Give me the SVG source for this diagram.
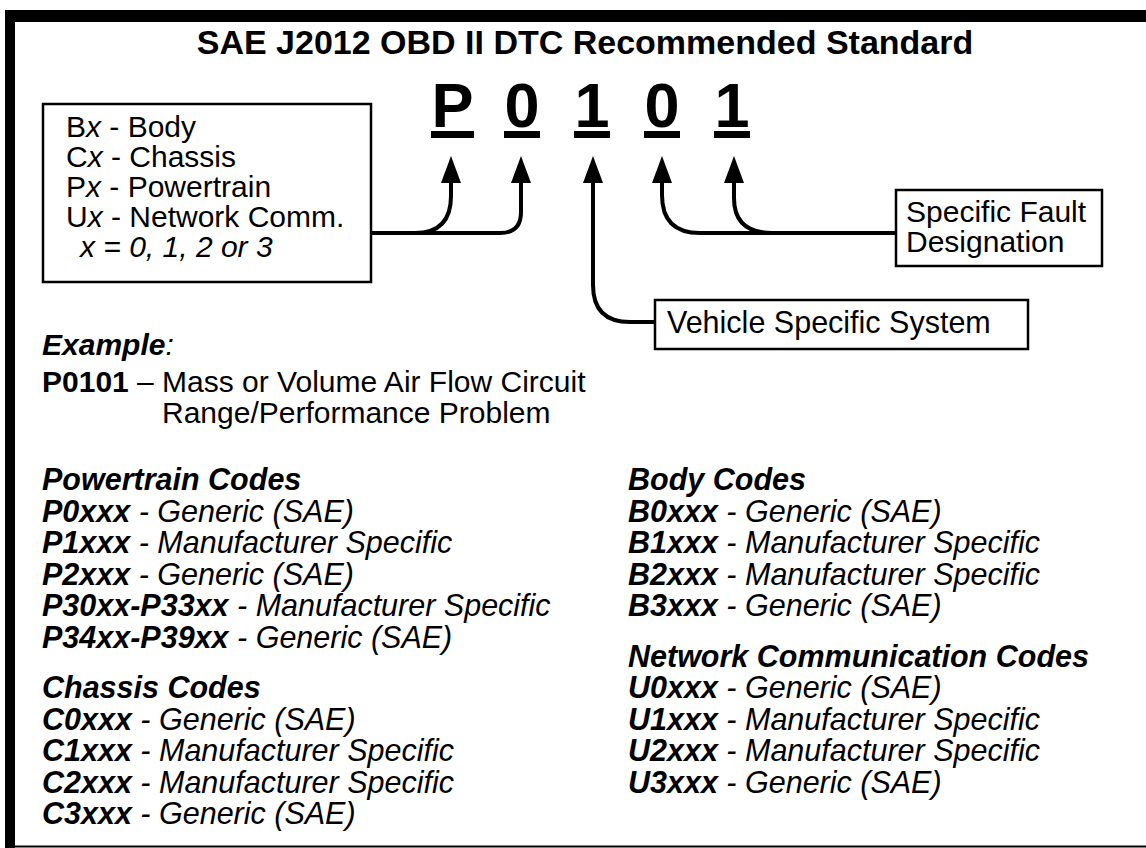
<svg xmlns="http://www.w3.org/2000/svg" width="1146" height="848" viewBox="0 0 1146 848">
<defs>
<style>
text{font-family:"Liberation Sans",Arial,Helvetica,sans-serif;fill:#000}
.t{font-size:30px}
.l{font-size:30.5px}
.i{font-style:italic}
.b{font-weight:bold}
.box{fill:#fff;stroke:#000;stroke-width:2.5}
.con{fill:none;stroke:#000;stroke-width:4}
.big{font-size:63px;font-weight:bold;text-anchor:middle}
</style>
<marker id="ah" viewBox="0 0 27 20" markerWidth="27" markerHeight="20" markerUnits="userSpaceOnUse" refX="0" refY="10" orient="auto">
<path d="M0,0 L27,10 L0,20 Z" fill="#000"/>
</marker>
</defs>
<rect width="1146" height="848" fill="#fff"/>
<g id="frame">
<rect x="5" y="10" width="1141" height="12" fill="#000"/>
<rect x="5" y="10" width="10" height="838" fill="#000"/>
<rect x="15" y="845.5" width="1131" height="2" fill="#000"/>
</g>
<g id="title">
<text x="585" y="54" class="b" font-size="34" text-anchor="middle">SAE J2012 OBD II DTC Recommended Standard</text>
</g>
<g id="code-chars">
<text x="452.5" y="127" class="big">P</text>
<text x="522" y="127" class="big">0</text>
<text x="592" y="127" class="big">1</text>
<text x="662" y="127" class="big">0</text>
<text x="732" y="127" class="big">1</text>
<rect x="431" y="131" width="43" height="7"/>
<rect x="504" y="131" width="36" height="7"/>
<rect x="574" y="131" width="36" height="7"/>
<rect x="644" y="131" width="36" height="7"/>
<rect x="714" y="131" width="36" height="7"/>
</g>
<g id="connectors">
<path class="con" marker-end="url(#ah)" d="M371 233 H415 Q451 233 451 196 V183"/>
<path class="con" marker-end="url(#ah)" d="M371 233 H500 Q521 233 521 212 V183"/>
<path class="con" marker-end="url(#ah)" d="M656 322 H630 Q593 322 593 285 V183"/>
<path class="con" marker-end="url(#ah)" d="M896 233 H700 Q662 233 662 195 V183"/>
<path class="con" marker-end="url(#ah)" d="M896 233 H772 Q734 233 734 198 V183"/>
</g>
<g id="box-categories">
<rect class="box" x="43" y="104" width="328" height="178"/>
<text class="t" x="66" y="137">B<tspan class="i">x</tspan> - Body</text>
<text class="t" x="66" y="167">C<tspan class="i">x</tspan> - Chassis</text>
<text class="t" x="66" y="197">P<tspan class="i">x</tspan> - Powertrain</text>
<text class="t" x="66" y="227">U<tspan class="i">x</tspan> - Network Comm.</text>
<text class="t i" x="80" y="257">x = 0, 1, 2 or 3</text>
</g>
<g id="box-fault">
<rect class="box" x="896" y="190" width="206" height="76"/>
<text class="t" x="906" y="222">Specific Fault</text>
<text class="t" x="906" y="252">Designation</text>
</g>
<g id="box-vehicle">
<rect class="box" x="655" y="300" width="373" height="49"/>
<text class="l" x="667" y="333">Vehicle Specific System</text>
</g>
<g id="example">
<text class="t i" x="42" y="355"><tspan class="b">Example</tspan>:</text>
<text class="t" x="42" y="392"><tspan class="b">P0101</tspan> – Mass or Volume Air Flow Circuit</text>
<text class="t" x="162" y="423">Range/Performance Problem</text>
</g>
<g id="powertrain">
<text class="l i b" x="42" y="490">Powertrain Codes</text>
<text class="l i" x="42" y="521.5"><tspan class="b">P0xxx</tspan> - Generic (SAE)</text>
<text class="l i" x="42" y="553"><tspan class="b">P1xxx</tspan> - Manufacturer Specific</text>
<text class="l i" x="42" y="584.5"><tspan class="b">P2xxx</tspan> - Generic (SAE)</text>
<text class="l i" x="42" y="616"><tspan class="b">P30xx-P33xx</tspan> - Manufacturer Specific</text>
<text class="l i" x="42" y="647.5"><tspan class="b">P34xx-P39xx</tspan> - Generic (SAE)</text>
</g>
<g id="chassis">
<text class="l i b" x="42" y="698">Chassis Codes</text>
<text class="l i" x="42" y="729.5"><tspan class="b">C0xxx</tspan> - Generic (SAE)</text>
<text class="l i" x="42" y="761"><tspan class="b">C1xxx</tspan> - Manufacturer Specific</text>
<text class="l i" x="42" y="792.5"><tspan class="b">C2xxx</tspan> - Manufacturer Specific</text>
<text class="l i" x="42" y="824"><tspan class="b">C3xxx</tspan> - Generic (SAE)</text>
</g>
<g id="body">
<text class="l i b" x="628" y="490">Body Codes</text>
<text class="l i" x="628" y="521.5"><tspan class="b">B0xxx</tspan> - Generic (SAE)</text>
<text class="l i" x="628" y="553"><tspan class="b">B1xxx</tspan> - Manufacturer Specific</text>
<text class="l i" x="628" y="584.5"><tspan class="b">B2xxx</tspan> - Manufacturer Specific</text>
<text class="l i" x="628" y="616"><tspan class="b">B3xxx</tspan> - Generic (SAE)</text>
</g>
<g id="network">
<text class="l i b" x="628" y="666.5">Network Communication Codes</text>
<text class="l i" x="628" y="698"><tspan class="b">U0xxx</tspan> - Generic (SAE)</text>
<text class="l i" x="628" y="729.5"><tspan class="b">U1xxx</tspan> - Manufacturer Specific</text>
<text class="l i" x="628" y="761"><tspan class="b">U2xxx</tspan> - Manufacturer Specific</text>
<text class="l i" x="628" y="792.5"><tspan class="b">U3xxx</tspan> - Generic (SAE)</text>
</g>
</svg>
